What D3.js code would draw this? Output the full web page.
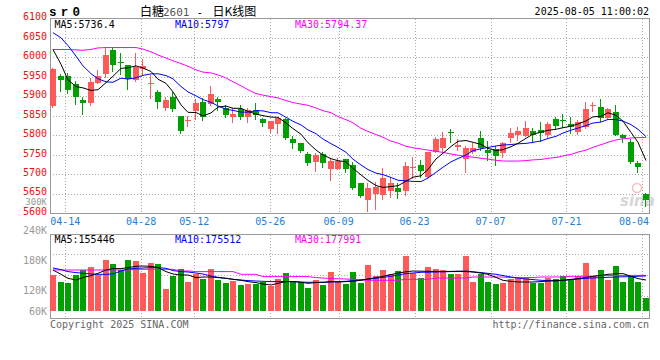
<!DOCTYPE html>
<html><head><meta charset="utf-8">
<script src="https://cdn.jsdelivr.net/npm/d3@7"></script>
<style>body{margin:0;background:#fff}svg{display:block}</style>
</head><body><svg id="c" width="660" height="360"></svg>
<script>
const dates=["04-10","04-11","04-14","04-15","04-16","04-17","04-18","04-21","04-22","04-23","04-24","04-25","04-28","04-29","04-30","05-06","05-07","05-08","05-09","05-12","05-13","05-14","05-15","05-16","05-19","05-20","05-21","05-22","05-23","05-26","05-27","05-28","05-29","05-30","06-03","06-04","06-05","06-06","06-09","06-10","06-11","06-12","06-13","06-16","06-17","06-18","06-19","06-20","06-23","06-24","06-25","06-26","06-27","06-30","07-01","07-02","07-03","07-04","07-07","07-08","07-09","07-10","07-11","07-14","07-15","07-16","07-17","07-18","07-21","07-22","07-23","07-24","07-25","07-28","07-29","07-30","07-31","08-01","08-04","08-05"];
const open=[5876,5952,5952,5931,5890,5882,5934,5956,6019,5987,5979,5943,5969,5933,5910,5871,5897,5849,5837,5862,5885,5879,5893,5871,5848,5868,5848,5865,5842,5817,5829,5842,5790,5779,5751,5732,5751,5714,5714,5739,5724,5677,5634,5649,5647,5657,5666,5658,5719,5724,5694,5758,5768,5808,5771,5738,5756,5792,5762,5764,5754,5794,5801,5798,5811,5814,5801,5842,5840,5829,5809,5821,5875,5872,5844,5860,5801,5784,5728,5649];
const close=[5969,5942,5916,5897,5884,5936,5952,6006,5979,5985,5944,5976,5978,5935,5886,5891,5867,5811,5839,5884,5848,5905,5886,5852,5855,5848,5865,5852,5832,5837,5844,5792,5781,5760,5728,5750,5728,5734,5734,5714,5666,5644,5664,5668,5690,5677,5655,5721,5720,5708,5758,5790,5794,5806,5775,5768,5767,5768,5754,5747,5780,5805,5811,5818,5801,5805,5829,5824,5838,5821,5834,5867,5877,5844,5867,5801,5792,5732,5718,5634];
const high=[5973,5956,5959,5939,5897,5948,5967,6025,6023,6012,5980,6012,5995,5955,5916,5899,5910,5850,5849,5893,5895,5927,5897,5878,5871,5878,5870,5883,5844,5837,5845,5844,5799,5781,5758,5754,5758,5741,5743,5739,5732,5678,5677,5679,5715,5692,5678,5732,5744,5737,5758,5796,5808,5816,5790,5773,5779,5811,5785,5773,5784,5818,5822,5837,5818,5835,5835,5846,5855,5846,5839,5886,5886,5892,5870,5878,5803,5791,5735,5651];
const low=[5872,5914,5909,5880,5855,5878,5933,5950,5965,5956,5919,5938,5955,5895,5871,5865,5863,5807,5824,5842,5839,5878,5865,5848,5835,5842,5835,5842,5824,5809,5807,5790,5768,5758,5724,5708,5719,5685,5714,5707,5662,5642,5607,5610,5636,5642,5640,5647,5690,5694,5694,5756,5758,5784,5762,5705,5754,5762,5737,5724,5745,5784,5788,5798,5784,5785,5796,5818,5821,5805,5803,5820,5863,5837,5842,5801,5784,5730,5707,5620];
const ma5=[6020,5982,5942,5925,5921.6,5915,5917,5935,5951.4,5971.6,5973.2,5978,5972.4,5963.6,5943.8,5933.2,5911.4,5878,5858.8,5858.4,5849.8,5857.4,5872.4,5875,5869.2,5869.2,5861.2,5854.4,5850.4,5846.8,5846,5831.4,5817.2,5802.8,5781,5762.2,5749.4,5740,5734.8,5732,5715.2,5698.4,5684.4,5671.2,5666.4,5668.6,5670.8,5682.2,5692.6,5696.2,5712.4,5739.4,5754,5771.2,5784.6,5786.6,5782,5776.8,5766.4,5760.8,5763.2,5770.8,5779.4,5792.2,5803,5808,5812.8,5815.4,5819.4,5823.4,5829.2,5836.8,5847.4,5848.6,5857.8,5851.2,5836.2,5807.2,5782,5735.4];
const ma10=[6063,6050,6030,6003,5978,5958,5945,5937,5936,5946.6,5944.1,5947.5,5953.7,5957.5,5957.7,5953.2,5944.7,5925.2,5911.2,5901.1,5891.5,5884.4,5875.2,5866.9,5863.8,5859.5,5859.3,5863.4,5862.7,5858,5857.6,5846.3,5835.8,5826.6,5813.9,5804.1,5790.4,5778.6,5768.8,5756.5,5738.7,5723.9,5712.2,5703,5699.2,5691.9,5684.6,5683.3,5681.9,5681.3,5690.5,5705.1,5718.1,5731.9,5740.4,5749.5,5760.7,5765.4,5768.8,5772.7,5774.9,5776.4,5778.1,5779.3,5781.9,5785.6,5791.8,5797.4,5805.8,5813.2,5818.6,5824.8,5831.4,5834,5840.6,5840.2,5836.5,5827.3,5815.3,5796.6];
const ma30=[6020,6020,6020,6019,6018,6020,6024,6025,6025,6025,6025,6025,6021,6014,6006,5998,5991,5984,5977,5968,5962,5960,5955,5947,5937,5927,5917,5907,5903,5899,5896,5889,5884,5880,5877,5870,5863,5858,5848,5840,5832,5818,5810,5802,5795,5785,5780,5772,5768,5765,5762,5759,5756,5752,5749,5746,5744,5741,5739,5736,5734,5734,5734,5735,5737,5738,5741,5743,5747,5751,5757,5762,5769,5776,5782,5788,5791,5793,5794,5794.4];
const volume=[178.5,145,140,178.5,207,220,178.5,253.5,233.5,207,253.5,248.5,190,240,233.5,108.5,175,208.5,145,183.5,158.5,208.5,153.5,140,150,128.5,137,137,145,125,158.5,190,150,145,115,153.5,128.5,195,143.5,133.5,195,142,228.5,173.5,203.5,183.5,198.5,275,188.5,167,218.5,208.5,203.5,183.5,183.5,275,145,187,145,133.5,140,158.5,167,167,140,140,167,158.5,177,158.5,177,240,175,203.5,153.5,223.5,145,175,145,65];
const vma5=[205,183.5,163.5,155,167,177,188.5,205,212,212,217,223.5,225,223.5,217,197,185,180,180,167,170,170,167,163.5,158.5,153.5,147,142,135,130,138.5,147,147,143.5,138.5,142,143.5,147,145,147,148.5,154,160,167,173.5,182,190,196,200,199,198.5,198,197,198,198.5,197,195,190,183.5,168,153.5,148,145,145,145,147,150,152,153.5,158,162,168,173.5,178,183.5,186,187,173.5,162,155];
const vma10=[215,207,197,192,188.5,185,183.5,183.5,185,200,210,213.5,215,217,217,213.5,202,197,195,190,185,175,168.5,163.5,158.5,155,152,150,148.5,147,147,147,147,145,143.5,143.5,143.5,145,147,148.5,152,155,159,163.5,168,173.5,180,187,190,193.5,194,195,196,197,198.5,200,196,192,188,183.5,177,170,165,160,157,153.5,152,150,153.5,157,160,163.5,165,167,168.5,170,171,172,173.5,175.5];
const vma30=[205,205,205,205,205,205,205,205,205,205,205,208.5,208.5,208.5,208.5,208.5,208.5,200,200,197,197,197,197,197,197,183.5,183.5,183.5,172,172,172,172,172,172,172,167,165,162,161,160,158.5,156,153.5,153.5,153.5,153.5,153.5,158.5,158.5,158.5,158.5,165,165,165,165,165,170,170,170,170,170,167,167,167,167,170,170,170,170,173.5,173.5,173.5,173.5,177,177,177,177,178,178,178];
const priceTicks=[6100,6050,6000,5950,5900,5850,5800,5750,5700,5650,5600];
const volTickValues=[300,240,180,120,60];
const volTickLabels=["300K","240K","180K","120K","60K"];
const dateTicks=["04-14","04-28","05-12","05-26","06-09","06-23","07-07","07-21","08-04"];

const svg=d3.select("#c");
const MONO="'DejaVu Sans Mono', monospace";
const RED="#ff5a5a", GREEN="#00a000";
const L=50,R=650;
const idx=d3.range(dates.length);
const xb=d3.scaleBand().domain(idx).range([L,R]).paddingInner(0.2).paddingOuter(0.1);
const xg=d3.scaleLinear().domain([0,dates.length-1]).range([L,R]);
const y=d3.scaleLinear().domain([5600,6100]).range([213.3,18.3]);
const yv=d3.scaleLinear().domain([0,300]).range([311,251]);
const yvLab=d3.scaleLinear().domain([120,300]).range([290,200]);
const left=i=>Math.floor(L+0.5+xb.step()*i);
const cx=i=>left(i)+3;

// grids
const gridX=dateTicks.map(d=>Math.round(xg(dates.indexOf(d)))+0.5).filter(v=>v<R-2);
const g=svg.append("g").attr("shape-rendering","crispEdges");
g.selectAll(".hg").data(priceTicks.slice(1,-1)).join("line")
 .attr("x1",L).attr("x2",R).attr("y1",d=>Math.round(y(d))+0.5).attr("y2",d=>Math.round(y(d))+0.5)
 .attr("stroke","#aaa").attr("stroke-dasharray","1,2");
g.selectAll(".vg").data(gridX).join("line")
 .attr("x1",d=>d).attr("x2",d=>d).attr("y1",18.5).attr("y2",213.5)
 .attr("stroke","#aaa").attr("stroke-dasharray","1,2");
g.selectAll(".vg2").data(gridX).join("line")
 .attr("x1",d=>d).attr("x2",d=>d).attr("y1",234.5).attr("y2",318.5)
 .attr("stroke","#aaa").attr("stroke-dasharray","1,2");
g.selectAll(".hg2").data([254.5,275.5,296.5]).join("line")
 .attr("x1",L).attr("x2",R).attr("y1",d=>d).attr("y2",d=>d)
 .attr("stroke","#aaa").attr("stroke-dasharray","1,2");
[[18.5,213.5],[234.5,318.5]].forEach(([t,b])=>{
  g.append("rect").attr("x",L+0.5).attr("y",t).attr("width",R-L-1).attr("height",b-t)
   .attr("fill","none").attr("stroke","#999");
});

// watermark
const wm=svg.append("g").attr("opacity",0.5);
wm.append("circle").attr("cx",637).attr("cy",188).attr("r",4.5).attr("fill","none").attr("stroke","#f08080").attr("stroke-width",1.5);
wm.append("text").attr("x",620).attr("y",206).attr("font-family","'DejaVu Sans',sans-serif").attr("font-style","italic").attr("font-weight","bold").attr("font-size",15).attr("fill","#b0b0b0").text("sina");

// candles
const cg=svg.append("g").attr("shape-rendering","crispEdges");
idx.forEach(i=>{
  const up=close[i]>=open[i];
  const col=up?RED:GREEN;
  const x0=left(i);
  cg.append("line").attr("x1",x0+2.5).attr("x2",x0+2.5)
    .attr("y1",Math.round(y(high[i]))).attr("y2",Math.round(y(low[i]))+1).attr("stroke",col);
  const t=Math.round(y(Math.max(open[i],close[i]))), b=Math.round(y(Math.min(open[i],close[i])));
  cg.append("rect").attr("x",x0).attr("y",t).attr("width",6).attr("height",Math.max(1,b-t)).attr("fill",col);
});
const line=d3.line().x((d,i)=>cx(i)).y(d=>y(d));
[[ma30,"#ff00ff"],[ma10,"#0000ff"],[ma5,"#000"]].forEach(([a,c])=>{
  svg.append("path").attr("d",line(a)).attr("fill","none").attr("stroke",c).attr("stroke-width",1);
});

// volume
const vg=svg.append("g").attr("shape-rendering","crispEdges");
vg.selectAll("rect").data(idx).join("rect")
 .attr("x",i=>left(i)).attr("width",6)
 .attr("y",i=>Math.round(yv(volume[i]))).attr("height",i=>311-Math.round(yv(volume[i])))
 .attr("fill",i=>close[i]>=open[i]?RED:GREEN);
const vline=d3.line().x((d,i)=>cx(i)).y(d=>yv(d));
[[vma30,"#ff00ff"],[vma10,"#0000ff"],[vma5,"#000"]].forEach(([a,c])=>{
  svg.append("path").attr("d",vline(a)).attr("fill","none").attr("stroke",c).attr("stroke-width",1);
});

// texts
const T=(x,yy,s,fill,anchor,fs)=>svg.append("text").attr("x",x).attr("y",yy).attr("font-family",MONO).attr("font-size",fs||10).attr("fill",fill).attr("text-anchor",anchor||"start").text(s);
priceTicks.forEach(p=>T(47,y(p)+(p===5650?0.8:1.8),String(p),"#ee1111","end"));
volTickValues.forEach((v,k)=>T(47,v===300?205:Math.min(yvLab(v),311)+3.6,volTickLabels[k],"#999","end",v===300?9:10));
dateTicks.forEach(d=>{
  let cxx=xg(dates.indexOf(d));
  cxx=Math.min(cxx,R-1-15);
  T(cxx,225,d,"#1c7ed6","middle");
});
T(54.5,27.5,"MA5:5736.4","#000");
T(175,27.5,"MA10:5797","#0000ff");
T(295,27.5,"MA30:5794.37","#ff00ff");
T(54.5,242.5,"MA5:155446","#000");
T(175,242.5,"MA10:175512","#0000ff");
T(295,242.5,"MA30:177991","#ff00ff");
T(649,15,"2025-08-05 11:00:02","#000","end");
T(50,327.5,"Copyright 2025 SINA.COM","#666");
T(649,327.5,"http://finance.sina.com.cn","#666","end");
svg.append("text").attr("x",49).attr("y",15.5).attr("font-family","'Liberation Mono',monospace").attr("font-weight","bold").attr("font-size",12.5).attr("letter-spacing",4.2).attr("fill","#000").text("sr0");
const CJK="'Noto Sans CJK SC',sans-serif";
const tt=svg.append("text").attr("y",16).attr("font-family",CJK).attr("font-size",12).attr("fill","#000");
tt.append("tspan").attr("x",140).text("白糖");
tt.append("tspan").attr("x",163).attr("font-family",MONO).attr("font-size",11).attr("fill","#555").text("2601");
tt.append("tspan").attr("x",196.5).attr("font-family",MONO).attr("font-size",11).text("-");
tt.append("tspan").attr("x",212.5).text("日K线图");
</script></body></html>
